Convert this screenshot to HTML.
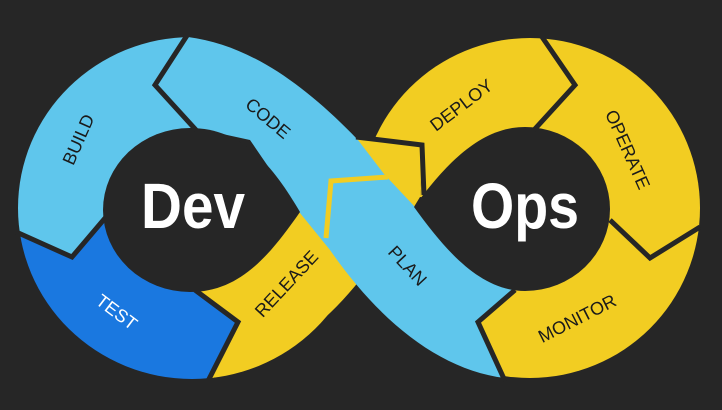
<!DOCTYPE html>
<html><head><meta charset="utf-8"><style>
html,body{margin:0;padding:0;background:#262626;width:722px;height:410px;overflow:hidden;}
svg{display:block}
text{font-family:"Liberation Sans",sans-serif;}
</style></head><body>
<svg width="722" height="410" viewBox="0 0 722 410" xmlns="http://www.w3.org/2000/svg">
<defs>
<clipPath id="cl"><ellipse cx="192" cy="208" rx="174" ry="171"/></clipPath>
<clipPath id="cr"><circle cx="530" cy="208" r="170"/></clipPath>
</defs>
<rect width="722" height="410" fill="#262626"/>
<g clip-path="url(#cl)">
<polygon fill="#5fc6ec" points="200,210 195,128 155,85 188,37 195,-10 -50,-10 -50,215 17,232 72,257 105,218"/>
<polygon fill="#1a78e0" points="200,210 105,218 72,257 17,232 -50,215 -50,450 200,450 208,378 238,322 195,290"/>
<polygon fill="#f2cd22" points="200,210 195,290 238,322 208,378 200,450 400,450 400,200"/>
</g>
<g clip-path="url(#cr)">
<polygon fill="#f2cd22" points="525,209 420,197 423,145 358,139 300,100 300,-10 545,-10 540,37 575,85 535,128"/>
<polygon fill="#f2cd22" points="525,209 535,128 575,85 540,37 545,-10 760,-10 760,250 698,228 650,258 610,220"/>
<polygon fill="#f2cd22" points="525,209 610,220 650,258 698,228 760,250 760,450 505,450 505,378 478,322 515,290"/>
</g>
<path fill="#f2cd22" d="M212,378 C270,366 320,330 360,280 L400,230 L420,197 L423,145 L358,139 L330,150 L300,213 L238,322 Z"/>
<!-- blue band -->
<path fill="#5fc6ec" d="M155,85 L188,37 C250,45 305,85 358,140 L384,174 L415,207 L515,290 L478,322 L505,378 C440,370 380,322 330,250 L300,213 L250,140 L195,128 Z"/>
<polyline points="326,238 331,181 388,177" fill="none" stroke="#f2cd22" stroke-width="5"/>
<!-- holes -->
<path fill="#262626" d="M190,128 C245,128 275,170 300,212 C270,255 240,292 190,292 A87 82 0 0 1 190,128 Z"/>
<path fill="#262626" d="M525,127 A85 82 0 0 1 525,291 C480,291 445,250 414,207 C445,165 480,127 525,127 Z"/>
<!-- chevron separators -->
<g fill="none" stroke="#262626" stroke-width="5" stroke-linejoin="miter">
<polyline points="196,130 155,85 188,34"/>
<polyline points="106,217 72,257 14,231"/>
<polyline points="195,290 238,322 208,381"/>
<polyline points="356,137 422,145 424,195"/>
<polyline points="534,130 575,85 540,34"/>
<polyline points="610,220 650,258 700,227"/>
<polyline points="515,290 478,322 505,381"/>
</g>
<text x="193" y="228" font-size="64" font-weight="bold" fill="#fff" text-anchor="middle" textLength="104" lengthAdjust="spacingAndGlyphs">Dev</text>
<text x="525" y="228" font-size="64" font-weight="bold" fill="#fff" text-anchor="middle" textLength="108" lengthAdjust="spacingAndGlyphs">Ops</text>
<g font-size="18" fill="#1a1a1a" text-anchor="middle">
<text transform="translate(84,142) rotate(-66)">BUILD</text>
<text transform="translate(264,123) rotate(40)">CODE</text>
<text transform="translate(291,288) rotate(-47)">RELEASE</text>
<text transform="translate(113,317) rotate(37)" fill="#fff">TEST</text>
<text transform="translate(465,110) rotate(-37)">DEPLOY</text>
<text transform="translate(622,152) rotate(66)">OPERATE</text>
<text transform="translate(403,270) rotate(47)">PLAN</text>
<text transform="translate(580,324) rotate(-27)">MONITOR</text>
</g>
</svg>
</body></html>
